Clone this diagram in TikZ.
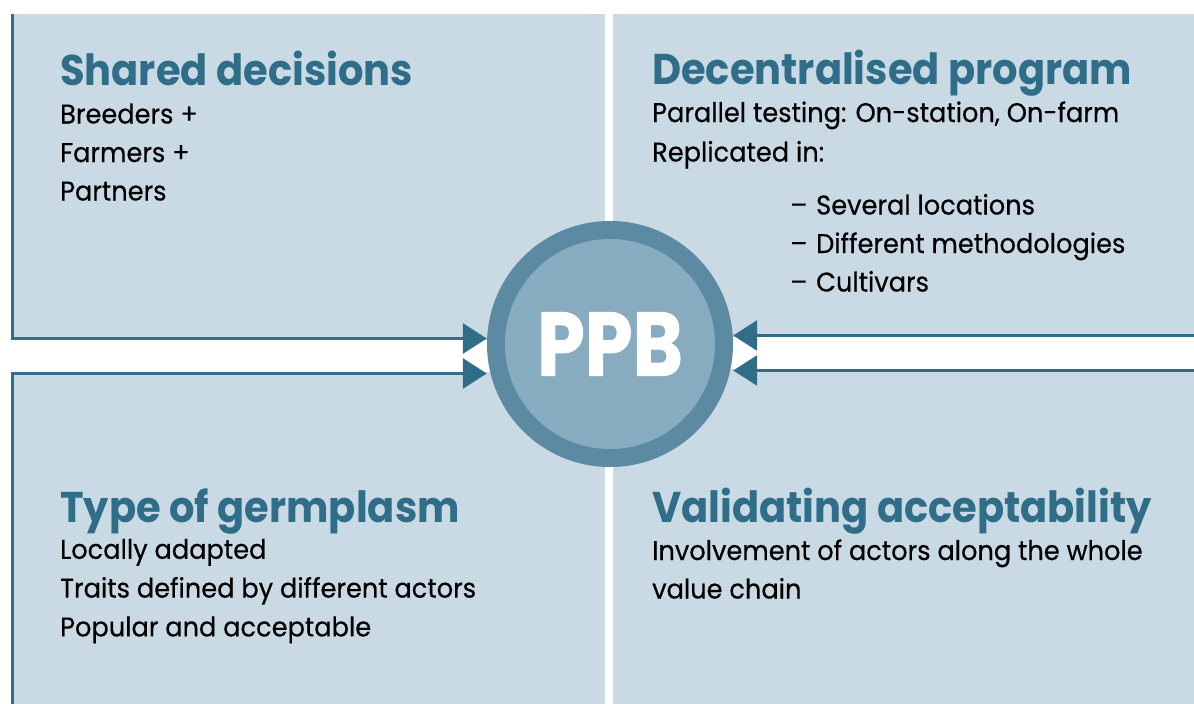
\documentclass[tikz,border=0pt]{standalone}
\usepackage{fontspec}
\setmainfont{Poppins}
\newfontfamily\headfont{Poppins}[FakeStretch=0.93]
\newfontfamily\bodyfont{Poppins}[FakeStretch=0.95,FakeBold=0.4]
\newfontfamily\ppbfont{Poppins}[FakeStretch=0.85,FakeBold=1]
\usetikzlibrary{arrows.meta}
\definecolor{panelblue}{HTML}{C9DAE4}
\definecolor{edgeblue}{HTML}{2F6D88}
\definecolor{ringblue}{HTML}{5B8AA2}
\definecolor{coreblue}{HTML}{87ABBF}

\begin{document}
\begin{tikzpicture}[x=1pt,y=-1pt,
		edge/.style={draw=edgeblue,line width=3pt,-{Triangle[length=24pt,width=30pt]}},
		head/.style={anchor=base west,inner sep=0pt,text=edgeblue,font=\headfont\bfseries\fontsize{43}{43}\selectfont},
		body/.style={anchor=base west,inner sep=0pt,font=\bodyfont\fontsize{27}{27}\selectfont}]
		\useasboundingbox (0,0) rectangle (1194,704);
		
		% four panels
		\fill[panelblue] (11,14) rectangle (605,340);
		\fill[panelblue] (613,14) rectangle (1194,337);
		\fill[panelblue] (11,372) rectangle (605,704);
		\fill[panelblue] (613,369) rectangle (1194,704);
		
		% centre
		\node[circle,fill=ringblue,minimum size=246pt,inner sep=0pt] (ppb) at (610,344) {};
		\node[circle,fill=coreblue,minimum size=210pt,inner sep=0pt,text=white,
			font=\ppbfont\bfseries\fontsize{90}{90}\selectfont] (core) at (ppb) {PPB};
		
		\coordinate (tl) at (12.5,338.5);
		\coordinate (bl) at (12.5,373.5);
		\coordinate (tr) at (1194,335.5);
		\coordinate (br) at (1194,370.5);
		\draw[edge] (12.5,14) -- (tl) -- (ppb.west |- tl);
		\draw[edge] (12.5,704) -- (bl) -- (ppb.west |- bl);
		\draw[edge] (tr) -- (ppb.east |- tr);
		\draw[edge] (br) -- (ppb.east |- br);
		
		% texts
		\node[head] (shared) at (60,85) {Shared decisions};
		\foreach \txt [count=\i] in {Breeders +,Farmers +,Partners}
		\node[body] (shared-\i) at (60,85+38.5*\i) {\txt};
		
		\node[head] (decen) at (652,84) {Decentralised program};
		\node[body] (decen-1) at (652,122) {Parallel testing: On-station, On-farm};
		\node[body] (decen-2) at (652,161.5) {Replicated in:};
		\foreach \txt [count=\i] in {Several locations,Different methodologies,Cultivars}
		\node[body] (rep-\i) at (790,176+38.5*\i) {\makebox[26pt][l]{–}\txt};
		
		\node[head] (germ) at (60,522) {Type of germplasm};
		\foreach \txt [count=\i] in {Locally adapted,Traits defined by different actors,Popular and acceptable}
		\node[body] (germ-\i) at (60,520+38.8*\i) {\txt};
		
		\node[head] (valid) at (652,522) {Validating acceptability};
		\node[body] (valid-1) at (652,560) {Involvement of actors along the whole};
		\node[body] (valid-2) at (652,598.5) {value chain};
	\end{tikzpicture}
\end{document}
